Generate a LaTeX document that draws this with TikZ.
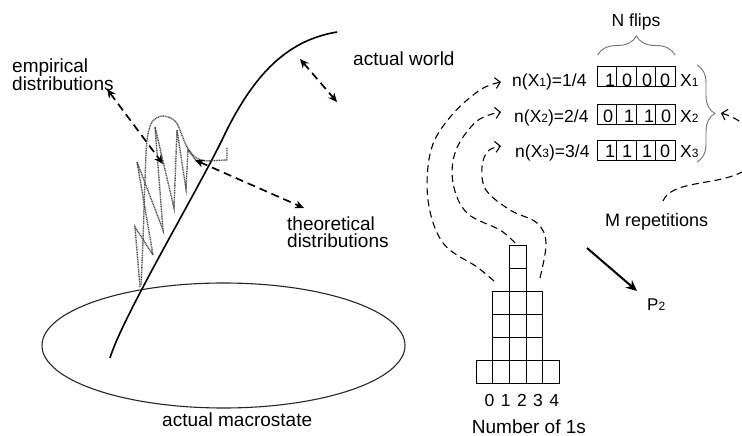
\documentclass[tikz,border=0pt]{standalone}
\usepackage{fontspec}
\setmainfont{Liberation Sans}
\usetikzlibrary{arrows.meta,decorations.pathreplacing}
\newcommand{\sbd}[1]{{\fontsize{12}{12}\selectfont #1}}
\begin{document}
\begin{tikzpicture}[x=1pt,y=-1pt,
  big/.style={font=\fontsize{19}{22}\selectfont, inner sep=0pt, anchor=base west},
  mid/.style={font=\fontsize{17.5}{20}\selectfont, inner sep=0pt, anchor=base west},
  dig/.style={font=\fontsize{18}{20}\selectfont, inner sep=0pt, anchor=base},
  dasharrow/.style={line width=1.7pt, dash pattern=on 8pt off 5pt, {Stealth[length=9pt,width=8pt]}-{Stealth[length=9pt,width=8pt]}},
  curvearrow/.style={line width=1.1pt, dash pattern=on 7pt off 4.5pt, -{Straight Barb[length=5pt,width=11pt]}},
  cell/.style={line width=1pt},
  dots/.style={black!70, line width=1.4pt, dash pattern=on 1pt off 0.7pt},
  bracegray/.style={draw=black!55, line width=0.9pt, decorate}]
\useasboundingbox (0,0) rectangle (742,436);
\clip (0,0) rectangle (742,436);
\fill[white] (0,0) rectangle (742,436);

% ---------- left part ----------
\draw[line width=1.1pt, black!85] (223.5,345.5) ellipse [x radius=181.5, y radius=62.5];
\draw[line width=1.6pt] (110,358) .. controls (122,318) and (195,195) .. (222,140) .. controls (255,70) and (290,40) .. (337,32);

% dotted envelope and zigzag
\draw[dots] plot[smooth, tension=0.5] coordinates {(141,285) (143,240) (145,180) (147,140) (152,122) (163,116) (176,122) (186,145) (195,157) (205,161)} -- (227,160) -- (227,147);
\draw[dots] (140,287) -- (135,227) -- (153,255) -- (137,162) -- (163,230) -- (155,127) -- (174,208) -- (177,130) -- (186,189) -- (188,150) -- (197,162);

% dashed double arrows
\coordinate (e1) at (107,89);
\coordinate (e2) at (163,164);
\coordinate (t1) at (195,160);
\coordinate (t2) at (304,208);
\coordinate (w1) at (300,59);
\coordinate (w2) at (337,102);
\draw[dasharrow] (e1) -- (e2);
\draw[dasharrow] (t1) -- (t2);
\draw[dasharrow] (w1) -- (w2);

\node[big] (emp1) at (12,72.5) {empirical};
\node[big] (emp2) at (12,90.5) {distributions};
\node[big] (th1) at (287,230) {theoretical};
\node[big] (th2) at (287,247.5) {distributions};
\node[big] (aw) at (353,66) {actual world};
\node[big] (am) at (162,426.7) {actual macrostate};

% ---------- right part ----------
\node[mid, anchor=base] (nf) at (636,26.7) {N flips};
\draw[bracegray, decoration={brace, amplitude=19pt}] (597.7,55) -- (675,55);

% rows of flips
\foreach \y in {67,104,140}{
  \draw[cell] (597.7,\y) rectangle (675,\y+20);
  \foreach \x in {616.7,636,655.7} \draw[cell] (\x,\y) -- (\x,\y+20);
}
\node[mid] (n1) at (512,86.7) {n(X\sbd{1})=1/4};
\node[mid] (n2) at (514,122.3) {n(X\sbd{2})=2/4};
\node[mid] (n3) at (515,157.5) {n(X\sbd{3})=3/4};
\node[dig] (d11) at (610,86) {1};
\node[dig] (d12) at (627,86) {0};
\node[dig] (d13) at (647,86) {0};
\node[dig] (d14) at (665,86) {0};
\node[dig] (d21) at (608,122) {0};
\node[dig] (d22) at (629,122) {1};
\node[dig] (d23) at (649,122) {1};
\node[dig] (d24) at (666,122) {0};
\node[dig] (d31) at (610,157.5) {1};
\node[dig] (d32) at (627,157.5) {1};
\node[dig] (d33) at (647,157.5) {1};
\node[dig] (d34) at (665,157.5) {0};
\node[mid] (x1) at (680,86.7) {X\sbd{1}};
\node[mid] (x2) at (680,122.3) {X\sbd{2}};
\node[mid] (x3) at (680,157.5) {X\sbd{3}};
\draw[bracegray, decoration={brace, amplitude=18pt}] (697,65) -- (697,162);
\coordinate (btip) at (721,113);

\node[mid, font=\fontsize{18}{20}\selectfont] (mrep) at (605,226.7) {M repetitions};
\draw[curvearrow] (663,201) .. controls (672,180) and (715,186) .. (742,172) .. controls (764,162) and (764,126) .. (btip);

% histogram
\foreach \c/\h in {0/1,1/4,2/6,3/4,4/1}{
  \foreach \r in {1,...,\h}{
    \draw[cell] ({476+16.67*\c},{383.3-22.93*(\r-1)}) rectangle ++(16.67,-22.93);
  }
}
\foreach \c in {0,...,4}{
  \node[dig, font=\fontsize{17.5}{20}\selectfont] (h\c) at ({489.5+16.2*\c},406.5) {\c};
}
\node[big] (nos) at (471.7,433.3) {Number of 1s};

% dashed curves from histogram to rows
\coordinate (c1s) at (494,281);
\coordinate (c1e) at (501,82);
\coordinate (c2s) at (515,243);
\coordinate (c2e) at (501,112);
\coordinate (c3s) at (540,278);
\coordinate (c3e) at (501,146);
\draw[curvearrow] plot[smooth, tension=0.6] coordinates {(c1s) (477,267) (443,243) (428,200) (431,150) (451,116) (480,90) (c1e)};
\draw[curvearrow] plot[smooth, tension=0.6] coordinates {(c2s) (500,230) (467,213) (453,183) (456,150) (477,121) (c2e)};
\draw[curvearrow] plot[smooth, tension=0.6] coordinates {(c3s) (546,243) (537,223) (510,210) (486,190) (482,167) (488,151) (c3e)};

% solid arrow to P2
\coordinate (pa) at (587,248);
\coordinate (pb) at (637,291);
\draw[line width=2pt, -{Stealth[length=11pt,width=10pt]}] (pa) -- (pb);
\node[mid, font=\fontsize{17}{20}\selectfont] (p2) at (647,310) {P\sbd{2}};
\end{tikzpicture}
\end{document}
